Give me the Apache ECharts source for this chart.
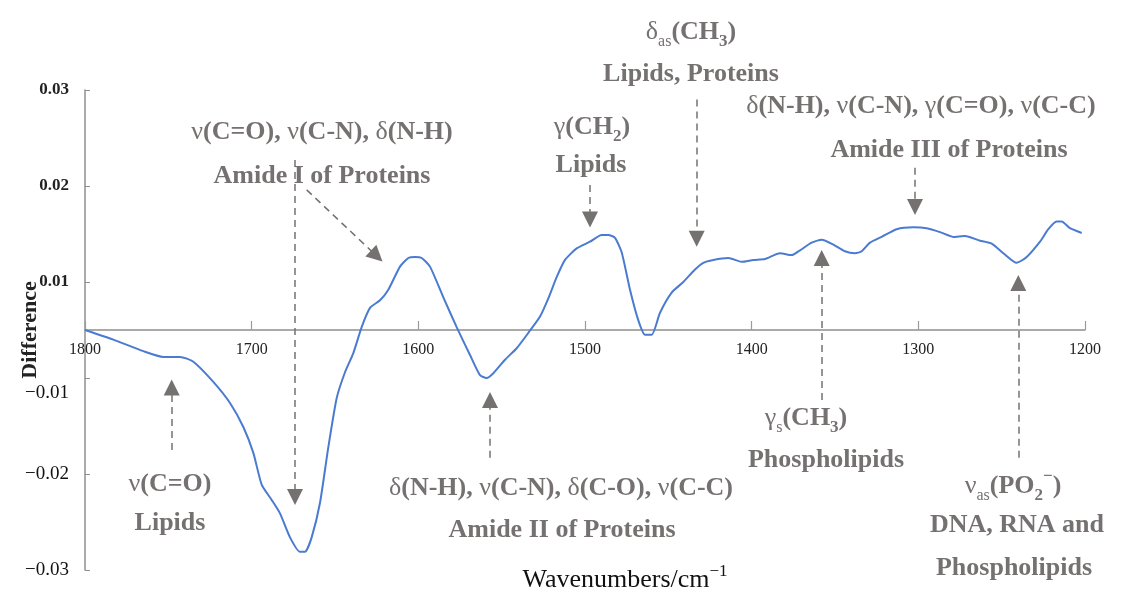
<!DOCTYPE html>
<html>
<head>
<meta charset="utf-8">
<script src="https://cdn.jsdelivr.net/npm/echarts@6.0.0/dist/echarts.min.js"></script>
<style>
  html, body { margin: 0; padding: 0; background: #fff; }
  #chart { width: 1130px; height: 599px; }
</style>
</head>
<body>
<div id="chart"></div>
<script>
// spectrum (x: wavenumber, y: difference)
var wavenumbers = [1800, 1783, 1765, 1753, 1743, 1735, 1723, 1713, 1705, 1699, 1694, 1688, 1683, 1677, 1671, 1668,
    1664, 1659, 1654, 1649, 1644, 1639, 1634, 1629, 1623, 1618, 1611, 1606, 1602, 1598, 1593, 1585, 1577, 1569,
    1563, 1559, 1555, 1548, 1541, 1534, 1527, 1522, 1517, 1512, 1505, 1497, 1490, 1486, 1482, 1478, 1473, 1468,
    1464, 1460, 1455, 1448, 1441, 1434, 1429, 1423, 1414, 1406, 1399, 1392, 1383, 1376, 1371, 1364, 1358, 1351,
    1344, 1338, 1334, 1329, 1322, 1313, 1303, 1295, 1287, 1279, 1272, 1263, 1256, 1249, 1241, 1235, 1227, 1222,
    1217, 1214, 1209, 1202];
var differences = [0, -0.0010, -0.0022, -0.0028, -0.0028, -0.0033, -0.0054, -0.0076, -0.0101, -0.0128, -0.0161,
    -0.0177, -0.0191, -0.0216, -0.0231, -0.0231, -0.0216, -0.0180, -0.0122, -0.0071, -0.0044, -0.0024, 0.0003,
    0.0023, 0.0031, 0.0042, 0.0066, 0.0075, 0.0076, 0.0075, 0.0066, 0.0034, 0.0003, -0.0026, -0.0047, -0.0050,
    -0.0045, -0.0031, -0.0019, -0.0003, 0.0014, 0.0033, 0.0055, 0.0073, 0.0085, 0.0092, 0.0099, 0.0099, 0.0096,
    0.0081, 0.0042, 0.0010, -0.0005, -0.0005, 0.0018, 0.0039, 0.0050, 0.0063, 0.0070, 0.0073, 0.0075, 0.0071,
    0.0073, 0.0074, 0.0080, 0.0078, 0.0083, 0.0091, 0.0094, 0.0089, 0.0082, 0.0080, 0.0082, 0.0091, 0.0097,
    0.0105, 0.0107, 0.0106, 0.0102, 0.0097, 0.0098, 0.0093, 0.0090, 0.0080, 0.0070, 0.0076, 0.0092, 0.0105,
    0.0113, 0.0113, 0.0106, 0.0101];

// y ticks sit half a step off zero in the figure, labels as printed
var yTickValues = [-0.025, -0.015, -0.005, 0.005, 0.015, 0.025];
var yTickLabels = ['\u22120.03', '\u22120.02', '\u22120.01', '0.01', '0.02', '0.03'];

// annotation arrows: [fromWavenumber, fromValue, toWavenumber, toValue]
var arrows = [
    [1748, -0.0125, 1748, -0.0060],
    [1674, 0.0177, 1674, -0.0174],
    [1667, 0.0146, 1625, 0.0077],
    [1497, 0.0151, 1497, 0.0115],
    [1433, 0.0240, 1433, 0.0095],
    [1302, 0.0169, 1302, 0.0128],
    [1557, -0.0133, 1557, -0.0073],
    [1358, -0.0073, 1358, 0.0075],
    [1240, -0.0133, 1240, 0.0049]
];

var SERIF = '"Liberation Serif", "Times New Roman", serif';
var GREY = '#767171';

var noteRich = {
    g: { fontFamily: SERIF, fontSize: 26, fontWeight: 'normal', fill: GREY, lineHeight: 36 },
    s: { fontFamily: SERIF, fontSize: 16, fontWeight: 'normal', fill: GREY, verticalAlign: 'bottom', lineHeight: 18 },
    n: { fontFamily: SERIF, fontSize: 17, fontWeight: 'bold', fill: GREY, verticalAlign: 'bottom', lineHeight: 18 },
    u: { fontFamily: SERIF, fontSize: 17, fontWeight: 'bold', fill: GREY, verticalAlign: 'top', lineHeight: 18 }
};

function note(x, y, text) {
    return {
        type: 'text', x: x, y: y, silent: true,
        style: {
            text: text, fontFamily: SERIF, fontSize: 26, fontWeight: 'bold', fill: GREY,
            lineHeight: 36, align: 'center', verticalAlign: 'middle', rich: noteRich
        }
    };
}

var notes = [
    note(170, 484, '{g|\u03bd}(C=O)'),
    note(170, 523, 'Lipids'),
    note(322, 132, '{g|\u03bd}(C=O), {g|\u03bd}(C-N), {g|\u03b4}(N-H)'),
    note(322, 176, 'Amide I of Proteins'),
    note(592, 127, '{g|\u03b3}(CH{n|2})'),
    note(591, 165, 'Lipids'),
    note(691, 32, '{g|\u03b4}{s|as}(CH{n|3})'),
    note(691, 74, 'Lipids, Proteins'),
    note(921, 106, '{g|\u03b4}(N-H), {g|\u03bd}(C-N), {g|\u03b3}(C=O), {g|\u03bd}(C-C)'),
    note(949, 150, 'Amide III of Proteins'),
    note(561, 488, '{g|\u03b4}(N-H), {g|\u03bd}(C-N), {g|\u03b4}(C-O), {g|\u03bd}(C-C)'),
    note(562, 530, 'Amide II of Proteins'),
    note(806, 418, '{g|\u03b3}{s|s}(CH{n|3})'),
    note(826, 460, 'Phospholipids'),
    note(1013, 486, '{g|\u03bd}{s|as}(PO{n|2}{u|\u2212})'),
    note(1017, 525, 'DNA, RNA and'),
    note(1014, 568, 'Phospholipids')
];

// axis titles
var axisTitles = [{
    type: 'text', x: 625, y: 580, silent: true,
    style: {
        text: 'Wavenumbers/cm{u|\u22121}', fontFamily: SERIF, fontSize: 26, fill: '#111',
        lineHeight: 34, align: 'center', verticalAlign: 'middle',
        rich: { u: { fontFamily: SERIF, fontSize: 17, fill: '#111', verticalAlign: 'top', lineHeight: 18 } }
    }
}, {
    type: 'text', x: 30, y: 330, rotation: Math.PI / 2, silent: true,
    style: {
        text: 'Difference', fontFamily: SERIF, fontSize: 22, fontWeight: 'bold', fill: '#222',
        align: 'center', verticalAlign: 'middle'
    }
}];

var chartDom = document.getElementById('chart');
var myChart = echarts.init(chartDom);

var option = {
    animation: false,
    grid: { left: 85, right: 45, top: 90, bottom: 29, containLabel: false, outerBoundsMode: 'none' },
    xAxis: {
        type: 'value',
        inverse: true,
        min: 1200,
        max: 1800,
        interval: 100,
        position: 'bottom',
        offset: -240,
        axisLine: { onZero: false, lineStyle: { color: '#8f8f8f', width: 1.5 } },
        axisTick: { inside: true, length: 9, lineStyle: { color: '#9a9a9a', width: 1.2 } },
        axisLabel: {
            margin: 12, fontFamily: SERIF, fontSize: 16, color: '#222',
            formatter: function (v) { return String(v); }
        },
        splitLine: { show: false }
    },
    yAxis: {
        type: 'value',
        min: -0.025,
        max: 0.025,
        axisLine: { show: true, lineStyle: { color: '#8f8f8f', width: 1.5 } },
        axisTick: { show: true, inside: true, length: 5, customValues: yTickValues, lineStyle: { color: '#8f8f8f' } },
        axisLabel: {
            margin: 16,
            customValues: yTickValues,
            formatter: function (val) {
                for (var i = 0; i < yTickValues.length; i++) {
                    if (Math.abs(yTickValues[i] - val) < 1e-6) {
                        if (val > 0) return '{p|' + yTickLabels[i] + '}';
                        if (i === 2) return '{m1|' + yTickLabels[i] + '}';
                        return '{m|' + yTickLabels[i] + '}';
                    }
                }
                return '';
            },
            rich: {
                p: { fontFamily: SERIF, fontSize: 17, fontWeight: 'bold', color: '#222' },
                m: { fontFamily: SERIF, fontSize: 19, color: '#111' },
                m1: { fontFamily: SERIF, fontSize: 19, color: '#111', padding: [30, 0, 0, 0] }
            }
        },
        splitLine: { show: false }
    },
    graphic: notes.concat(axisTitles),
    series: [{
        type: 'line',
        data: wavenumbers.map(function (w, i) { return [w, differences[i]]; }),
        showSymbol: false,
        smooth: 0.2,
        lineStyle: { color: '#4a7bd0', width: 2 },
        markLine: {
            silent: true,
            animation: false,
            symbol: ['none', 'triangle'],
            symbolSize: 16,
            label: { show: false },
            lineStyle: { color: GREY, width: 1.5, type: [7, 5] },
            emphasis: { disabled: true },
            data: arrows.map(function (a) {
                return [{ coord: [a[0], a[1]] }, { coord: [a[2], a[3]] }];
            })
        }
    }]
};

myChart.setOption(option);
</script>
</body>
</html>
